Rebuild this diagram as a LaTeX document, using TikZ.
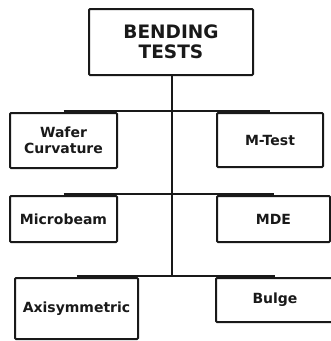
\documentclass[tikz,border=0pt]{standalone}
\usepackage{fontspec}
\setmainfont{DejaVu Sans}
\begin{document}
\begin{tikzpicture}[x=1pt,y=-1pt,
  box/.style={draw=black!90,line width=2pt,rounded corners=1pt,inner sep=0pt,
    align=center,font=\bfseries\fontsize{14}{15.5}\selectfont,text=black!90},
  bar/.style={draw=black!90,line width=2.2pt},
  trunk/.style={draw=black!90,line width=2pt}]
\useasboundingbox (0,0) rectangle (331,341);
\clip (0,0) rectangle (331,341);
\fill[white] (0,0) rectangle (331,341);
\node[box,minimum width=164pt,minimum height=66pt,font=\bfseries\fontsize{18.5}{20.5}\selectfont] (top) at (171,42) {BENDING\\TESTS};
\node[box,minimum width=107pt,minimum height=55pt] (wafer) at (63.5,140.5) {Wafer\\Curvature};
\node[box,minimum width=106pt,minimum height=54pt] (mtest) at (270,140) {M-Test};
\node[box,minimum width=107pt,minimum height=46pt] (micro) at (63.5,219) {Microbeam};
\node[box,minimum width=113pt,minimum height=46pt] (mde) at (273.5,219) {MDE};
\node[box,minimum width=123pt,minimum height=61pt] (axi) at (76.5,308.5) {Axisymmetric};
\node[box,minimum width=118pt,minimum height=44pt] (bulge) at (275,300) {Bulge};
\coordinate (j3) at (172,275);
\draw[trunk] (top.south -| j3) -- (j3);
\draw[bar] ([yshift=1pt]wafer.north) -- ([yshift=1pt]mtest.north);
\draw[bar] ([yshift=1pt]micro.north) -- ([yshift=1pt]mde.north);
\draw[bar] ([yshift=1pt]axi.north) -- ([yshift=1pt]bulge.north);
\end{tikzpicture}
\end{document}
